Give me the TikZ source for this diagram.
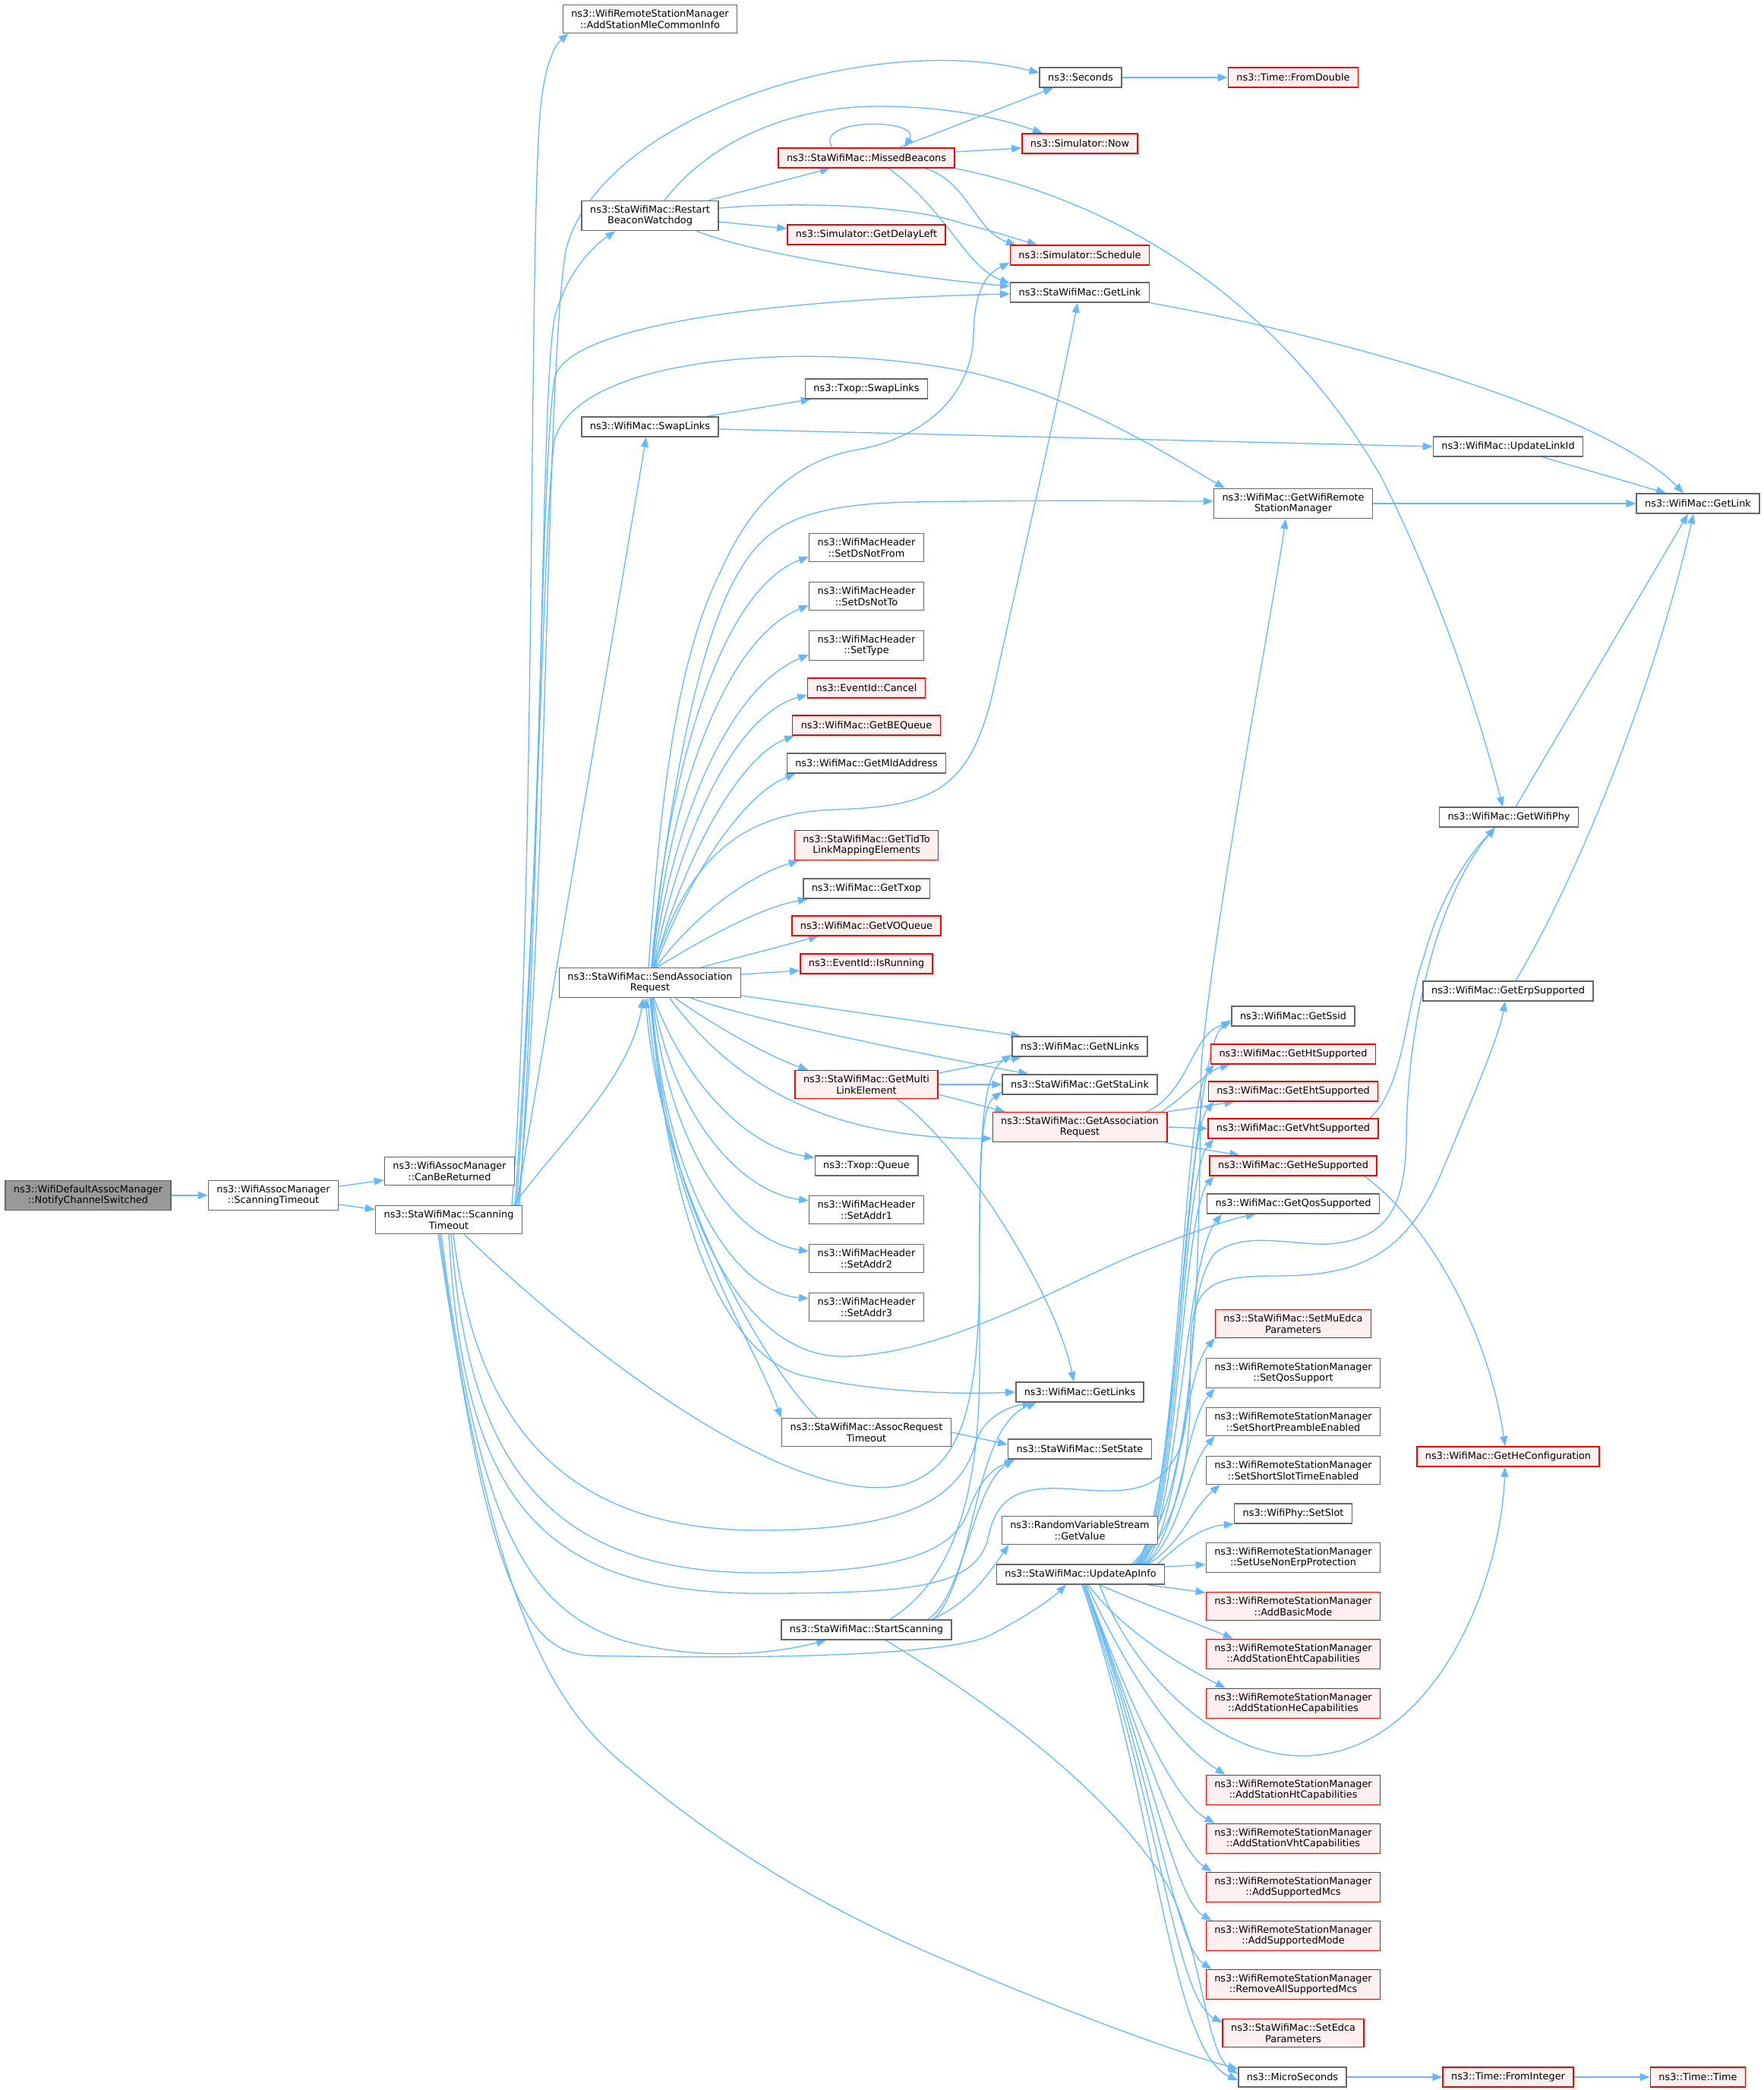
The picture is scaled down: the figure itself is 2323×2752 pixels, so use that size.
\documentclass[tikz,border=0pt]{standalone}
\usepackage{fontspec}
\setmainfont{DejaVu Sans}
\usetikzlibrary{arrows.meta, backgrounds}
\definecolor{edgeblue}{HTML}{63B8FF}
\definecolor{boxgray}{HTML}{666666}
\definecolor{rootgray}{HTML}{999999}
\definecolor{pinkfill}{HTML}{FFF0F0}
\newcommand{\fnfont}{\fontsize{12.85pt}{14.7pt}\selectfont}

\begin{document}
\begin{tikzpicture}[x=1pt, y=-1pt,
    fn/.style={draw=boxgray, fill=white, line width=1.4pt, inner xsep=11pt, inner ysep=6pt, minimum height=26pt, align=center, font=\fnfont},
    % hot = red framed function
    root/.style={fn, fill=rootgray},
    hot/.style={fn, draw=red, fill=pinkfill},
    call/.style={draw=edgeblue, line width=1.3pt, -{Triangle[length=13pt, width=10pt]}},
]
    \useasboundingbox (0,0) rectangle (2323,2752);

    % % Nodes
    \node[root] (NCS) at (116,1574) {ns3::WifiDefaultAssocManager\\::NotifyChannelSwitched};
    \node[fn] (WAM) at (360,1574) {ns3::WifiAssocManager\\::ScanningTimeout};
    \node[fn] (CBR) at (592,1542) {ns3::WifiAssocManager\\::CanBeReturned};
    \node[fn] (ST) at (591,1606) {ns3::StaWifiMac::Scanning\\Timeout};

    \node[fn] (MLE) at (856,25) {ns3::WifiRemoteStationManager\\::AddStationMleCommonInfo};
    \node[fn] (RBW) at (856,284) {ns3::StaWifiMac::Restart\\BeaconWatchdog};
    \node[fn] (SWL) at (856,562) {ns3::WifiMac::SwapLinks};
    \node[fn] (SAR) at (856,1294) {ns3::StaWifiMac::SendAssociation\\Request};

    \node[hot] (MB) at (1141,208) {ns3::StaWifiMac::MissedBeacons};
    \node[hot] (GDL) at (1141,309) {ns3::Simulator::GetDelayLeft};
    \node[fn] (TSL) at (1141,512) {ns3::Txop::SwapLinks};
    \node[fn] (DNF) at (1141,721) {ns3::WifiMacHeader\\::SetDsNotFrom};
    \node[fn] (DNT) at (1141,785) {ns3::WifiMacHeader\\::SetDsNotTo};
    \node[fn] (STY) at (1141,850) {ns3::WifiMacHeader\\::SetType};
    \node[hot] (EVC) at (1141,906) {ns3::EventId::Cancel};
    \node[hot] (BEQ) at (1141,955) {ns3::WifiMac::GetBEQueue};
    \node[fn] (MLD) at (1141,1005) {ns3::WifiMac::GetMldAddress};
    \node[hot] (TID) at (1141,1113) {ns3::StaWifiMac::GetTidTo\\LinkMappingElements};
    \node[fn] (TXP) at (1141,1170) {ns3::WifiMac::GetTxop};
    \node[hot] (VOQ) at (1141,1219) {ns3::WifiMac::GetVOQueue};
    \node[hot] (EIR) at (1141,1269) {ns3::EventId::IsRunning};
    \node[hot] (GML) at (1141,1428) {ns3::StaWifiMac::GetMulti\\LinkElement};
    \node[fn] (TXQ) at (1141,1535) {ns3::Txop::Queue};
    \node[fn] (AD1) at (1141,1593) {ns3::WifiMacHeader\\::SetAddr1};
    \node[fn] (AD2) at (1141,1657) {ns3::WifiMacHeader\\::SetAddr2};
    \node[fn] (AD3) at (1141,1721) {ns3::WifiMacHeader\\::SetAddr3};
    \node[fn] (ART) at (1141,1886) {ns3::StaWifiMac::AssocRequest\\Timeout};
    \node[fn] (SS) at (1141,2146) {ns3::StaWifiMac::StartScanning};

    \node[fn] (SEC) at (1423,102) {ns3::Seconds};
    \node[hot] (NOW) at (1422,189) {ns3::Simulator::Now};
    \node[hot] (SCH) at (1422,336) {ns3::Simulator::Schedule};
    \node[fn] (SGL) at (1422,385) {ns3::StaWifiMac::GetLink};
    \node[fn] (GNL) at (1422,1378) {ns3::WifiMac::GetNLinks};
    \node[fn] (GSL) at (1422,1428) {ns3::StaWifiMac::GetStaLink};
    \node[hot] (GAR) at (1422,1484) {ns3::StaWifiMac::GetAssociation\\Request};
    \node[fn] (GLS) at (1422,1833) {ns3::WifiMac::GetLinks};
    \node[fn] (SST) at (1422,1908) {ns3::StaWifiMac::SetState};
    \node[fn] (RVS) at (1422,2015) {ns3::RandomVariableStream\\::GetValue};
    \node[fn] (UAI) at (1423,2073) {ns3::StaWifiMac::UpdateApInfo};

    \node[hot] (FDB) at (1703,102) {ns3::Time::FromDouble};
    \node[fn] (GRS) at (1703,663) {ns3::WifiMac::GetWifiRemote\\StationManager};
    \node[fn] (SSI) at (1703,1338) {ns3::WifiMac::GetSsid};
    \node[hot] (GHT) at (1703,1388) {ns3::WifiMac::GetHtSupported};
    \node[hot] (EHT) at (1703,1437) {ns3::WifiMac::GetEhtSupported};
    \node[hot] (VHT) at (1703,1486) {ns3::WifiMac::GetVhtSupported};
    \node[hot] (HES) at (1703,1535) {ns3::WifiMac::GetHeSupported};
    \node[fn] (QOS) at (1703,1585) {ns3::WifiMac::GetQosSupported};
    \node[hot] (MUE) at (1703,1743) {ns3::StaWifiMac::SetMuEdca\\Parameters};
    \node[fn] (QSS) at (1703,1808) {ns3::WifiRemoteStationManager\\::SetQosSupport};
    \node[fn] (SPE) at (1703,1872) {ns3::WifiRemoteStationManager\\::SetShortPreambleEnabled};
    \node[fn] (SSL) at (1703,1936) {ns3::WifiRemoteStationManager\\::SetShortSlotTimeEnabled};
    \node[fn] (SLT) at (1703,1993) {ns3::WifiPhy::SetSlot};
    \node[fn] (NEP) at (1703,2051) {ns3::WifiRemoteStationManager\\::SetUseNonErpProtection};
    \node[hot] (ABM) at (1703,2115) {ns3::WifiRemoteStationManager\\::AddBasicMode};
    \node[hot] (AEH) at (1703,2178) {ns3::WifiRemoteStationManager\\::AddStationEhtCapabilities};
    \node[hot] (AHE) at (1703,2243) {ns3::WifiRemoteStationManager\\::AddStationHeCapabilities};
    \node[hot] (AHT) at (1703,2357) {ns3::WifiRemoteStationManager\\::AddStationHtCapabilities};
    \node[hot] (AVH) at (1703,2421) {ns3::WifiRemoteStationManager\\::AddStationVhtCapabilities};
    \node[hot] (ASM) at (1703,2485) {ns3::WifiRemoteStationManager\\::AddSupportedMcs};
    \node[hot] (ASD) at (1703,2549) {ns3::WifiRemoteStationManager\\::AddSupportedMode};
    \node[hot] (RAM) at (1703,2613) {ns3::WifiRemoteStationManager\\::RemoveAllSupportedMcs};
    \node[hot] (SED) at (1703,2677) {ns3::StaWifiMac::SetEdca\\Parameters};
    \node[fn] (MIC) at (1702,2735) {ns3::MicroSeconds};

    \node[fn] (ULI) at (1986,588) {ns3::WifiMac::UpdateLinkId};
    \node[fn] (GWP) at (1987,1076) {ns3::WifiMac::GetWifiPhy};
    \node[fn] (ERP) at (1986,1305) {ns3::WifiMac::GetErpSupported};
    \node[hot] (HEC) at (1986,1918) {ns3::WifiMac::GetHeConfiguration};
    \node[hot] (FIN) at (1986,2735) {ns3::Time::FromInteger};
    \node[fn] (MGL) at (2236,663) {ns3::WifiMac::GetLink};
    \node[hot] (TIM) at (2236,2735) {ns3::Time::Time};

    \begin{scope}[on background layer]
    \fill[white] (0,0) rectangle (2323,2752);

    % Edges of the callers
    \draw[call] (NCS) -- (WAM);
    \draw[call] (WAM) -- (CBR);
    \draw[call] (WAM) -- (ST);

    % Edges out of ScanningTimeout, upwards
    \draw[call] ([xshift=-14pt]ST.north east) .. controls (706,1200) and (696,300) .. (712,140) .. controls (718,85) and (730,60) .. ([xshift=8pt]MLE.south west);
    \draw[call] ([xshift=-6pt]ST.north east) .. controls (722,1200) and (718,500) .. (745,330) .. controls (790,150) and (1150,40) .. ([yshift=6pt]SEC.west);
    \draw[call] ([xshift=-4pt]ST.north east) .. controls (716,1100) and (712,520) .. (730,420) .. controls (745,360) and (780,325) .. ([xshift=45pt]RBW.south west);
    \draw[call] ([xshift=-8pt]ST.north east) .. controls (714,1100) and (712,620) .. (730,500) .. controls (742,430) and (1000,395) .. ([yshift=-2pt]SGL.west);
    \draw[call] ([xshift=-10pt]ST.north east) .. controls (712,1100) and (715,700) .. (730,580) .. controls (760,470) and (1050,450) .. (1250,485) .. controls (1400,510) and (1540,600) .. ([xshift=15pt]GRS.north west);
    \draw[call] ([xshift=-8pt]ST.north east) -- ([xshift=-5pt]SWL.south);
    \draw[call] ([xshift=-12pt]ST.north east) .. controls (740,1500) and (830,1420) .. ([xshift=-9pt]SAR.south);

    % Edges out of ScanningTimeout, downwards
    \draw[call] ([xshift=20pt]ST.south) .. controls (760,1770) and (1040,1990) .. (1190,1955) .. controls (1275,1930) and (1290,1830) .. (1290,1650) .. controls (1290,1500) and (1295,1455) .. ([yshift=4pt]GSL.south west);
    \draw[call] ([xshift=6pt]ST.south) .. controls (620,1820) and (700,2015) .. (1000,2015) .. controls (1200,2015) and (1265,1970) .. (1285,1900) .. controls (1295,1865) and (1330,1852) .. ([xshift=22pt]GLS.south west);
    \draw[call] ([xshift=3pt]ST.south) .. controls (615,1900) and (700,2071) .. (1000,2071) .. controls (1180,2071) and (1255,2045) .. (1275,1990) .. controls (1290,1950) and (1305,1935) .. ([xshift=10pt]SST.south west);
    \draw[call] (ST.south) .. controls (610,1960) and (700,2098) .. (1000,2098) .. controls (1200,2098) and (1280,2090) .. (1300,2030) .. controls (1310,1980) and (1330,1957) .. (1400,1960) .. controls (1470,1964) and (1530,1975) .. (1556,1900) .. controls (1575,1830) and (1560,1700) .. (1600,1650) .. controls (1640,1620) and (1700,1640) .. (1750,1638) .. controls (1820,1632) and (1850,1600) .. (1852,1500) .. controls (1853,1330) and (1900,1170) .. ([xshift=-18pt]GWP.south);
    \draw[call] ([xshift=-10pt]ST.south) .. controls (630,2020) and (700,2120) .. (820,2160) .. controls (930,2190) and (1030,2175) .. ([xshift=-53pt]SS.south);
    \draw[call] ([xshift=-12pt]ST.south) .. controls (640,2080) and (690,2178) .. (780,2180) .. controls (1000,2185) and (1240,2180) .. (1300,2155) .. controls (1350,2130) and (1385,2105) .. ([xshift=-19pt]UAI.south);
    \draw[call] ([xshift=-14pt]ST.south) .. controls (650,2130) and (730,2250) .. (830,2330) .. controls (960,2440) and (1100,2520) .. (1250,2583) .. controls (1430,2660) and (1560,2705) .. ([yshift=-3pt]MIC.north west);

    % RestartBeaconWatchdog and MissedBeacons
    \draw[call] ([xshift=-13pt]RBW.north east) -- ([xshift=-48pt]MB.south);
    \draw[call] ([xshift=19pt]RBW.north) .. controls (940,180) and (1050,140) .. (1156,140) .. controls (1260,140) and (1330,160) .. ([xshift=-49pt]NOW.north);
    \draw[call] ([yshift=10pt]RBW.east) .. controls (1050,265) and (1200,270) .. (1270,295) .. controls (1310,305) and (1340,315) .. ([xshift=-56pt]SCH.north);
    \draw[call] ([yshift=-8pt]RBW.east) -- ([yshift=8pt]GDL.west);
    \draw[call] ([xshift=-29pt]RBW.south east) .. controls (980,330) and (1150,360) .. ([yshift=8pt]SGL.west);
    \draw[call] ([xshift=43pt]MB.north) -- ([xshift=-36pt]SEC.south);
    \draw[call] ([xshift=-45pt]MB.north) .. controls (1070,155) and (1215,155) .. ([xshift=50pt]MB.north);
    \draw[call] ([yshift=8pt]MB.east) -- ([yshift=-6pt]NOW.west);
    \draw[call] ([xshift=78pt]MB.south) .. controls (1275,240) and (1285,305) .. ([xshift=-84pt]SCH.north);
    \draw[call] ([xshift=29pt]MB.south) .. controls (1250,280) and (1270,350) .. ([yshift=-2pt]SGL.north west);
    \draw[call] (MB.south east) .. controls (1500,270) and (1700,420) .. (1820,630) .. controls (1900,790) and (1950,950) .. ([xshift=-8pt]GWP.north);

    % right hand side
    \draw[call] (SEC) -- (FDB);
    \draw[call] (SGL.south east) .. controls (1800,450) and (2120,550) .. ([xshift=-19pt]MGL.north);
    \draw[call] ([xshift=-16pt]SWL.north east) -- ([xshift=8pt]TSL.south west);
    \draw[call] ([yshift=-3pt]SWL.east) -- (ULI.west);
    \draw[call] ([xshift=45pt]ULI.south) -- ([xshift=-42pt]MGL.north);
    \draw[call] (GRS) -- (MGL);
    \draw[call] ([xshift=9pt]GWP.north) -- ([xshift=-13pt]MGL.south);
    \draw[call] ([xshift=10pt]ERP.north) .. controls (2080,1150) and (2180,900) .. ([xshift=-6pt]MGL.south);
    \draw[call] ([xshift=101pt]VHT.north) .. controls (1850,1430) and (1850,1330) .. (1875,1260) .. controls (1900,1170) and (1940,1120) .. ([xshift=-18pt]GWP.south);
    \draw[call] ([xshift=94pt]HES.south) .. controls (1880,1610) and (1960,1750) .. ([xshift=-4pt]HEC.north);
    \draw[call] (MIC) -- (FIN);
    \draw[call] (FIN) -- (TIM);

    % SendAssociationRequest, upwards
    \draw[call] ([xshift=2pt]SAR.north) .. controls (885,1000) and (930,820) .. (975,750) .. controls (1010,690) and (1060,664) .. (1200,661) .. controls (1400,658) and (1520,660) .. ([yshift=3pt]GRS.west);
    \draw[call] ([xshift=-2pt]SAR.north) .. controls (872,1020) and (895,860) .. (950,750) .. controls (990,660) and (1050,605) .. (1130,592) .. controls (1220,575) and (1280,520) .. (1282,440) .. controls (1283,390) and (1295,362) .. ([yshift=-10pt]SCH.west);
    \draw[call] ([xshift=5pt]SAR.north) .. controls (900,1150) and (960,1070) .. (1100,1066) .. controls (1230,1062) and (1280,1040) .. (1310,900) .. controls (1350,720) and (1400,500) .. ([xshift=-3pt]SGL.south);
    \draw[call] ([xshift=2pt]SAR.north) .. controls (875,1050) and (940,780) .. ([yshift=-12pt]DNF.west);
    \draw[call] ([xshift=3pt]SAR.north) .. controls (877,1080) and (945,845) .. ([yshift=-12pt]DNT.west);
    \draw[call] ([xshift=4pt]SAR.north) .. controls (880,1110) and (950,910) .. ([yshift=-12pt]STY.west);
    \draw[call] ([xshift=5pt]SAR.north) .. controls (885,1140) and (955,945) .. ([yshift=-9pt]EVC.west);
    \draw[call] ([xshift=6pt]SAR.north) .. controls (890,1160) and (965,1000) .. ([xshift=3pt]BEQ.south west);
    \draw[call] ([xshift=7pt]SAR.north) .. controls (895,1180) and (970,1050) .. ([xshift=12pt]MLD.south west);
    \draw[call] ([xshift=8pt]SAR.north) .. controls (905,1215) and (980,1155) .. ([xshift=6pt]TID.south west);
    \draw[call] ([xshift=9pt]SAR.north) .. controls (920,1240) and (1000,1195) .. ([xshift=7pt]TXP.south west);
    \draw[call] ([xshift=67pt]SAR.north) -- ([xshift=36pt]VOQ.south west);
    \draw[call] ([yshift=11pt]SAR.east) -- ([yshift=-9pt]EIR.west);

    % SendAssociationRequest, sideways and downwards
    \draw[call] ([yshift=-17pt]SAR.east) -- ([xshift=12pt]GNL.north west);
    \draw[call] ([xshift=54pt]SAR.south) .. controls (1000,1345) and (1200,1385) .. ([xshift=35pt]GSL.north west);
    \draw[call] ([xshift=33pt]SAR.south) .. controls (940,1350) and (1010,1390) .. ([xshift=18pt]GML.north west);
    \draw[call] ([xshift=26pt]SAR.south) .. controls (960,1420) and (1080,1500) .. ([yshift=-15pt]GAR.west);
    \draw[call] ([xshift=5pt]SAR.south) .. controls (900,1420) and (980,1510) .. ([yshift=-3pt]TXQ.north west);
    \draw[call] ([xshift=4pt]SAR.south) .. controls (890,1480) and (980,1570) .. ([yshift=-7pt]AD1.north west);
    \draw[call] ([xshift=3pt]SAR.south) .. controls (880,1500) and (960,1630) .. ([yshift=-10pt]AD2.north west);
    \draw[call] ([xshift=2pt]SAR.south) .. controls (875,1550) and (960,1700) .. ([yshift=-8pt]AD3.north west);
    \draw[call] ([xshift=-3pt]SAR.south) .. controls (875,1600) and (990,1760) .. (ART.north west);
    \draw[call] ([xshift=-65pt]ART.north) .. controls (1000,1790) and (870,1560) .. ([xshift=-6pt]SAR.south);
    \draw[call] ([xshift=1pt]SAR.south) .. controls (880,1620) and (960,1790) .. (1060,1812) .. controls (1160,1834) and (1260,1836) .. (GLS.west);
    \draw[call] (SAR.south) .. controls (880,1600) and (980,1790) .. (1114,1786) .. controls (1250,1782) and (1400,1690) .. (1500,1650) .. controls (1560,1626) and (1620,1605) .. ([xshift=65pt]QOS.south west);
    \draw[call] (ART.east) -- ([yshift=6pt]SST.west);

    % GetMultiLinkElement and GetAssociationRequest
    \draw[call] ([yshift=15pt]GML.east) -- ([xshift=13pt]GNL.south west);
    \draw[call] (GML.east) -- (GSL.west);
    \draw[call] ([yshift=-13pt]GML.east) -- ([xshift=17pt]GAR.north west);
    \draw[call] ([xshift=40pt]GML.south) .. controls (1260,1500) and (1390,1700) .. ([xshift=-8pt]GLS.north);
    \draw[call] ([xshift=88pt]GAR.north) .. controls (1565,1440) and (1570,1360) .. ([yshift=-9pt]SSI.west);
    \draw[call] ([xshift=108pt]GAR.north) .. controls (1565,1440) and (1590,1410) .. ([xshift=26pt]GHT.south west);
    \draw[call] (GAR.north east) -- ([xshift=35pt]EHT.south west);
    \draw[call] (GAR.east) -- (VHT.west);
    \draw[call] ([xshift=-4pt]GAR.south east) -- ([xshift=40pt]HES.north west);

    % StartScanning
    \draw[call] ([xshift=31pt]SS.north) .. controls (1240,2090) and (1290,2000) .. (1290,1800) .. controls (1290,1550) and (1285,1420) .. ([yshift=3pt]GNL.south west);
    \draw[call] ([xshift=81pt]SS.north) .. controls (1270,2100) and (1280,1960) .. ([xshift=8pt]SST.south west);
    \draw[call] ([xshift=88pt]SS.north) .. controls (1285,2080) and (1280,1880) .. ([xshift=28pt]GLS.south west);
    \draw[call] ([xshift=86pt]SS.north) .. controls (1280,2110) and (1310,2060) .. ([xshift=10pt]RVS.south west);
    \draw[call] ([xshift=25pt]SS.south) .. controls (1300,2240) and (1450,2350) .. (1530,2470) .. controls (1585,2560) and (1585,2700) .. ([yshift=4pt]MIC.west);

    % UpdateApInfo, upwards
    \draw[call] ([xshift=-40pt]UAI.north east) .. controls (1555,2000) and (1562,1385) .. ([yshift=-5pt]SSI.west);
    \draw[call] ([xshift=-38pt]UAI.north east) .. controls (1552,2000) and (1556,1450) .. ([xshift=5pt]GHT.south west);
    \draw[call] ([xshift=-36pt]UAI.north east) .. controls (1552,2000) and (1556,1500) .. ([xshift=8pt]EHT.south west);
    \draw[call] ([xshift=-34pt]UAI.north east) .. controls (1552,2000) and (1556,1550) .. ([xshift=8pt]VHT.south west);
    \draw[call] ([xshift=-32pt]UAI.north east) .. controls (1552,2000) and (1556,1600) .. ([xshift=6pt]HES.south west);
    \draw[call] ([xshift=-30pt]UAI.north east) .. controls (1552,2000) and (1560,1660) .. ([xshift=20pt]QOS.south west);
    \draw[call] ([xshift=-28pt]UAI.north east) .. controls (1552,2010) and (1558,1810) .. (MUE.south west);
    \draw[call] ([xshift=-26pt]UAI.north east) .. controls (1555,2015) and (1560,1875) .. ([xshift=12pt]QSS.south west);
    \draw[call] ([xshift=-24pt]UAI.north east) .. controls (1555,2020) and (1562,1935) .. ([xshift=12pt]SPE.south west);
    \draw[call] ([xshift=-22pt]UAI.north east) .. controls (1558,2030) and (1566,1990) .. ([xshift=19pt]SSL.south west);
    \draw[call] ([xshift=-10pt]UAI.north east) .. controls (1555,2030) and (1585,2010) .. (SLT.south west);
    \draw[call] ([xshift=-44pt]UAI.north east) .. controls (1585,1980) and (1578,1600) .. (1582,1400) .. controls (1600,1200) and (1680,780) .. ([xshift=-10pt]GRS.south);
    \draw[call] ([xshift=-36pt]UAI.north east) .. controls (1580,1980) and (1565,1840) .. (1568,1760) .. controls (1572,1690) and (1600,1680) .. (1680,1680) .. controls (1780,1680) and (1850,1660) .. (1900,1540) .. controls (1950,1420) and (1975,1360) .. ([xshift=-4pt]ERP.south);

    % UpdateApInfo, sideways and downwards
    \draw[call] ([yshift=10pt]UAI.east) -- ([yshift=-9pt]NEP.west);
    \draw[call] ([xshift=-24pt]UAI.south east) -- ([yshift=18pt]ABM.west);
    \draw[call] ([xshift=25pt]UAI.south) .. controls (1500,2110) and (1570,2135) .. ([xshift=36pt]AEH.north west);
    \draw[call] ([xshift=10pt]UAI.south) .. controls (1480,2150) and (1560,2195) .. ([xshift=26pt]AHE.north west);
    \draw[call] ([xshift=25pt]UAI.south) .. controls (1490,2200) and (1600,2312) .. (1715,2312) .. controls (1880,2312) and (1975,2100) .. ([xshift=-4pt]HEC.south);
    \draw[call] ([xshift=8pt]UAI.south) .. controls (1480,2190) and (1540,2290) .. ([xshift=26pt]AHT.north west);
    \draw[call] ([xshift=6pt]UAI.south) .. controls (1490,2250) and (1545,2370) .. ([xshift=12pt]AVH.north west);
    \draw[call] ([xshift=6pt]UAI.south) .. controls (1500,2280) and (1545,2430) .. ([xshift=8pt]ASM.north west);
    \draw[call] ([xshift=4pt]UAI.south) .. controls (1510,2300) and (1545,2500) .. ([xshift=8pt]ASD.north west);
    \draw[call] ([xshift=4pt]UAI.south) .. controls (1515,2320) and (1545,2560) .. ([xshift=8pt]RAM.north west);
    \draw[call] ([xshift=2pt]UAI.south) .. controls (1520,2340) and (1545,2630) .. ([yshift=-5pt]SED.north west);
    \draw[call] ([xshift=2pt]UAI.south) .. controls (1520,2360) and (1540,2700) .. ([yshift=-4pt]MIC.west);
    \end{scope}

\end{tikzpicture}
\end{document}
